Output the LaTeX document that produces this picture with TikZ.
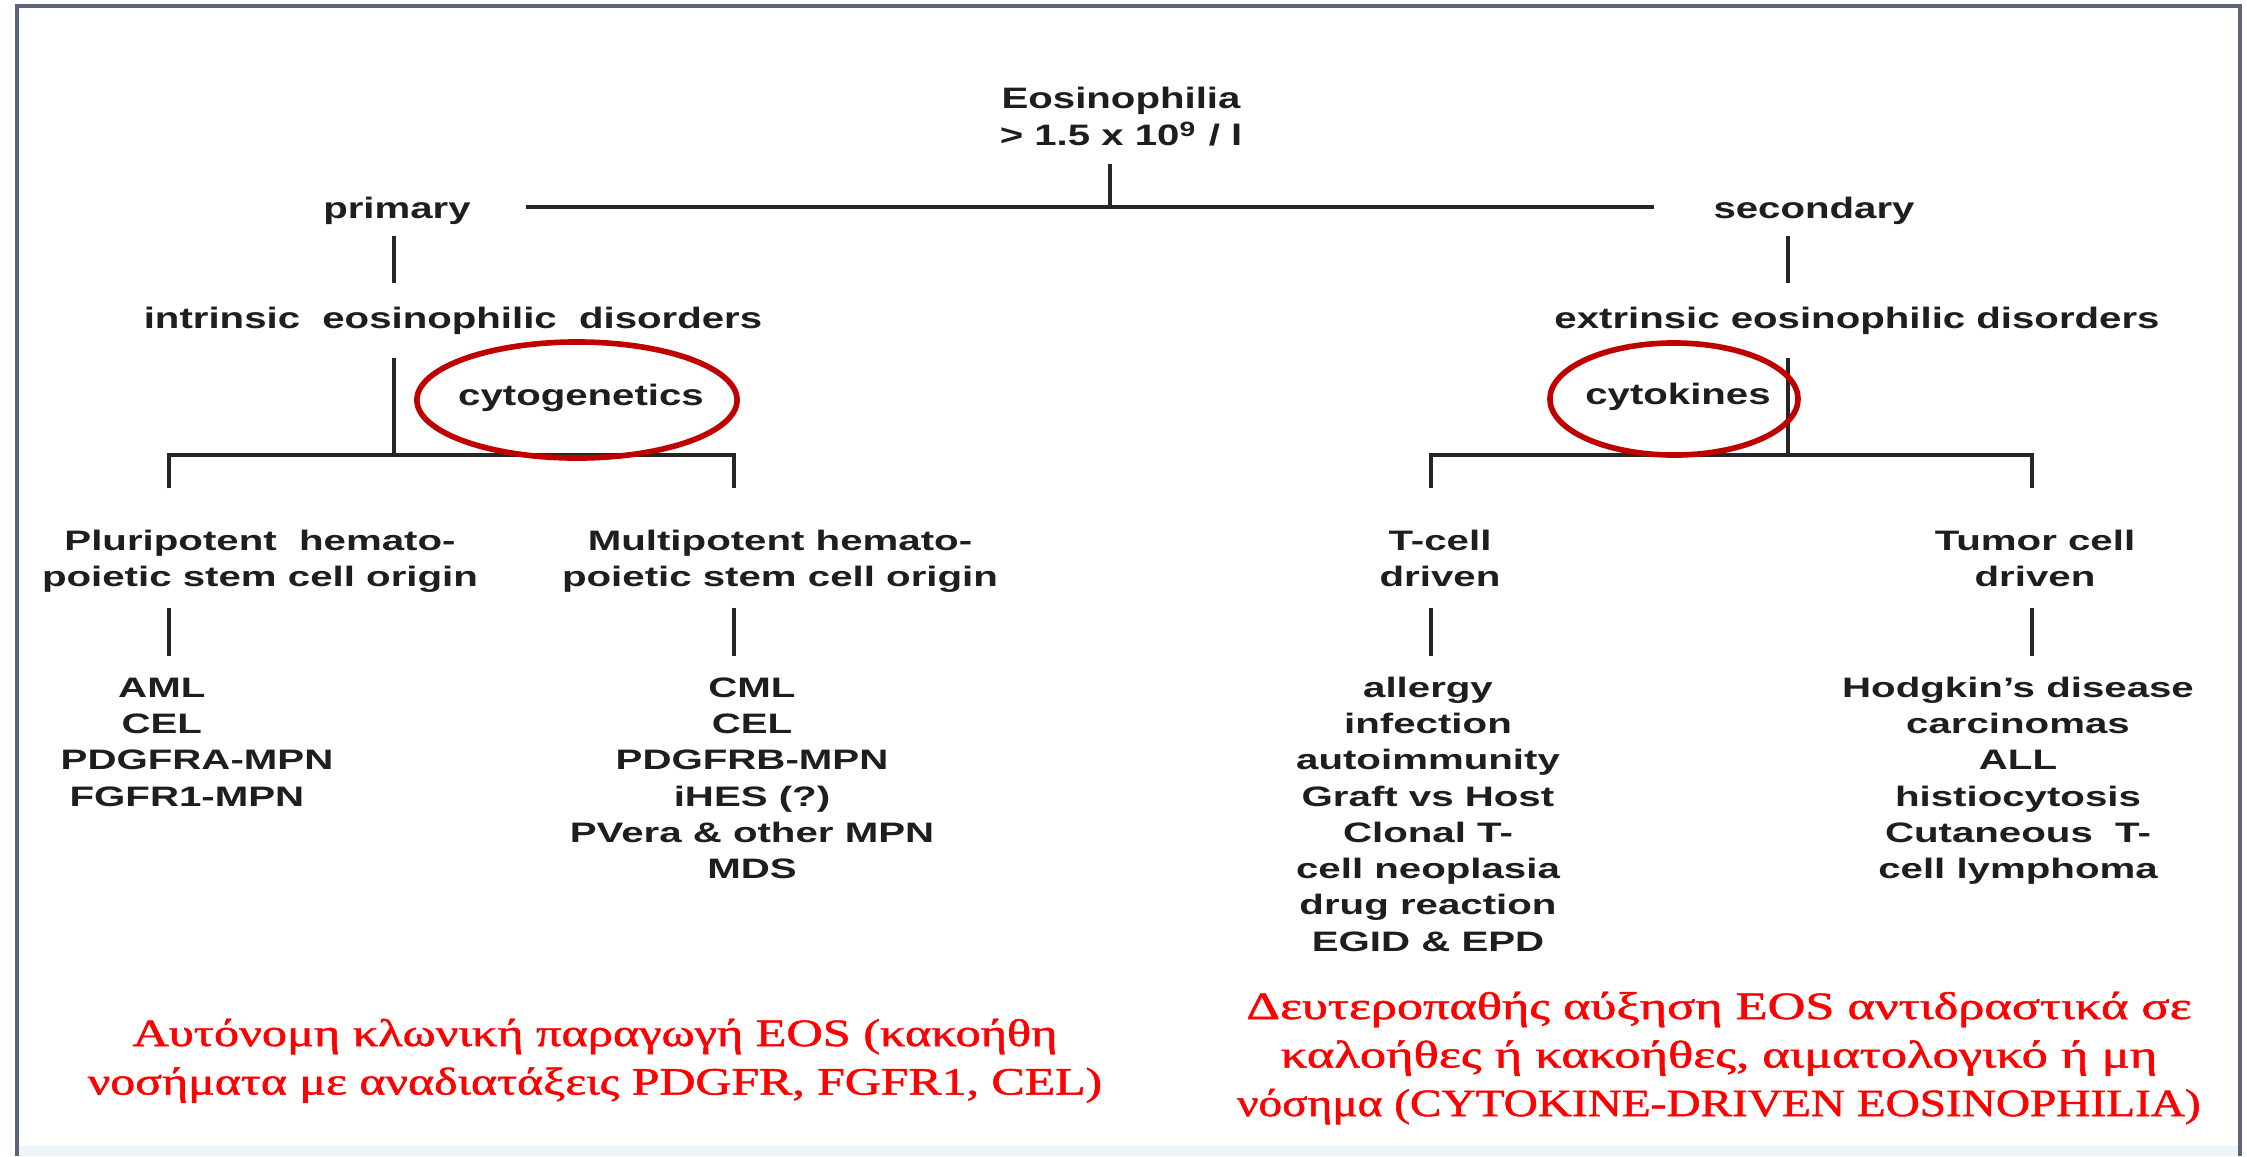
\documentclass[tikz,border=0pt]{standalone}
\usepackage{fontspec}
\setmainfont{Liberation Sans}
\newfontface\grkfont{Liberation Serif}[FakeBold=1.2]
\usepackage{graphicx}
\usetikzlibrary{shapes.geometric}
\definecolor{txt}{HTML}{1E1E1E}
\definecolor{lnc}{HTML}{262626}
\definecolor{ovl}{RGB}{192,0,0}
\definecolor{frm}{HTML}{5B6479}
\definecolor{redt}{RGB}{255,0,0}
\definecolor{bluish}{HTML}{EEF5F9}
\newcommand{\tb}[2]{\scalebox{#1}[1]{\begin{tabular}[t]{@{}c@{}}#2\end{tabular}}}
\newcommand{\sx}[2]{\scalebox{#1}[1]{#2}}
\begin{document}
\begin{tikzpicture}[x=0.01cm,y=-0.01cm,
 ttxt/.style={anchor=base, inner sep=0pt, text=txt, font=\fontsize{8.4}{10.8}\selectfont\bfseries},
 hdr/.style={anchor=base, inner sep=0pt, text=txt, font=\fontsize{8}{10.5}\selectfont\bfseries},
 lst/.style={anchor=base, inner sep=0pt, text=txt, font=\fontsize{8}{10.33}\selectfont\bfseries},
 rtxt/.style={anchor=base, inner sep=0pt, text=redt, font=\grkfont\fontsize{11}{13.8}\selectfont},
 ln/.style={draw=lnc, line width=1.1pt},
 oval/.style={ellipse, draw=ovl, line width=1.6pt, inner sep=0pt},
 framestyle/.style={draw=frm, line width=1.4pt}]
\useasboundingbox (0,0) rectangle (2247,1156);
\fill[white] (0,0) rectangle (2247,1156);
\fill[bluish] (17,1146) rectangle (2240,1156);
\draw[framestyle] (17,1156) -- (17,6) -- (2240,6) -- (2240,1156);

% top
\node[ttxt] (eos) at (1121,108) {\tb{1.36}{Eosinophilia\\> 1.5 x 10\textsuperscript{9} / l}};
\node[ttxt] (primary) at (397,218) {\tb{1.36}{primary}};
\node[ttxt] (secondary) at (1814,218) {\tb{1.36}{secondary}};
\node[ttxt] (intr) at (453,328) {\tb{1.36}{intrinsic\ \ eosinophilic\ \ disorders}};
\node[ttxt] (extr) at (1857,328) {\tb{1.36}{extrinsic eosinophilic disorders}};
\node[ttxt] (cytog) at (581,405) {\tb{1.36}{cytogenetics}};
\node[ttxt] (cytok) at (1678,404) {\tb{1.36}{cytokines}};

% headers
\node[hdr] (plur) at (260,550) {\tb{1.43}{Pluripotent\ \ hemato-\\poietic stem cell origin}};
\node[hdr] (multi) at (780,550) {\tb{1.43}{Multipotent hemato-\\poietic stem cell origin}};
\node[hdr] (tcell) at (1440,550) {\tb{1.43}{T-cell\\driven}};
\node[hdr] (tumor) at (2035,550) {\tb{1.43}{Tumor cell\\driven}};

% lists
\node[lst] (l1) at (197,697) {\tb{1.43}{AML\hspace*{14pt}\\CEL\hspace*{14pt}\\PDGFRA-MPN\\FGFR1-MPN\hspace*{4pt}}};
\node[lst] (l2) at (752,697) {\tb{1.43}{CML\\CEL\\PDGFRB-MPN\\iHES (?)\\PVera \& other MPN\\MDS}};
\node[lst] (l3) at (1428,697) {\tb{1.43}{allergy\\infection\\autoimmunity\\Graft vs Host\\Clonal T-\\cell neoplasia\\drug reaction\\EGID \& EPD}};
\node[lst] (l4) at (2018,697) {\tb{1.43}{Hodgkin's disease\\carcinomas\\ALL\\histiocytosis\\Cutaneous\ \ T-\\cell lymphoma}};

% red notes
\node[rtxt] (noteL) at (595,1046) {\tb{1.30}{Αυτόνομη κλωνική παραγωγή EOS (κακοήθη\\\sx{0.99}{νοσήματα με αναδιατάξεις PDGFR, FGFR1, CEL)}}};
\node[rtxt] (noteR) at (1719,1019) {\tb{1.30}{\sx{1.04}{Δευτεροπαθής αύξηση EOS αντιδραστικά σε}\\\sx{1.045}{καλοήθες ή κακοήθες, αιματολογικό ή μη}\\\sx{0.94}{νόσημα (CYTOKINE-DRIVEN EOSINOPHILIA)}}};

% junction coordinates
\coordinate (hub) at (1110,207);
\coordinate (jL) at (394,455);
\coordinate (jR) at (1788,455);
\coordinate (bL1) at (169,455);
\coordinate (bL2) at (734,455);
\coordinate (bR1) at (1431,455);
\coordinate (bR2) at (2032,455);

% connectors
\draw[ln, shorten <=0.06cm] (hub |- eos.south) -- (hub);
\draw[ln, shorten <=0.55cm, shorten >=0.59cm] (primary.east |- hub) -- (secondary.west |- hub);
\draw[ln, shorten <=0.06cm, shorten >=0.18cm] (jL |- primary.south) -- (jL |- intr.north);
\draw[ln, shorten <=0.06cm, shorten >=0.18cm] (jR |- secondary.south) -- (jR |- extr.north);
\draw[ln, shorten <=0.18cm] (jL |- intr.south) -- (jL);
\draw[ln, shorten <=0.18cm] (jR |- extr.south) -- (jR);
\draw[ln, shorten <=0.35cm, shorten >=0.35cm] (bL1 |- plur.north) -- (bL1) -- (bL2) -- (bL2 |- multi.north);
\draw[ln, shorten <=0.35cm, shorten >=0.35cm] (bR1 |- tcell.north) -- (bR1) -- (bR2) -- (bR2 |- tumor.north);
\draw[ln, shorten <=0.09cm, shorten >=0.15cm] (bL1 |- plur.south) -- (bL1 |- l1.north);
\draw[ln, shorten <=0.09cm, shorten >=0.15cm] (bL2 |- multi.south) -- (bL2 |- l2.north);
\draw[ln, shorten <=0.09cm, shorten >=0.15cm] (bR1 |- tcell.south) -- (bR1 |- l3.north);
\draw[ln, shorten <=0.09cm, shorten >=0.15cm] (bR2 |- tumor.south) -- (bR2 |- l4.north);

% red ovals
\node[oval, minimum width=3.2cm, minimum height=1.16cm] (ovL) at (577,400) {};
\node[oval, minimum width=2.48cm, minimum height=1.12cm] (ovR) at (1674,399) {};
\end{tikzpicture}
\end{document}
